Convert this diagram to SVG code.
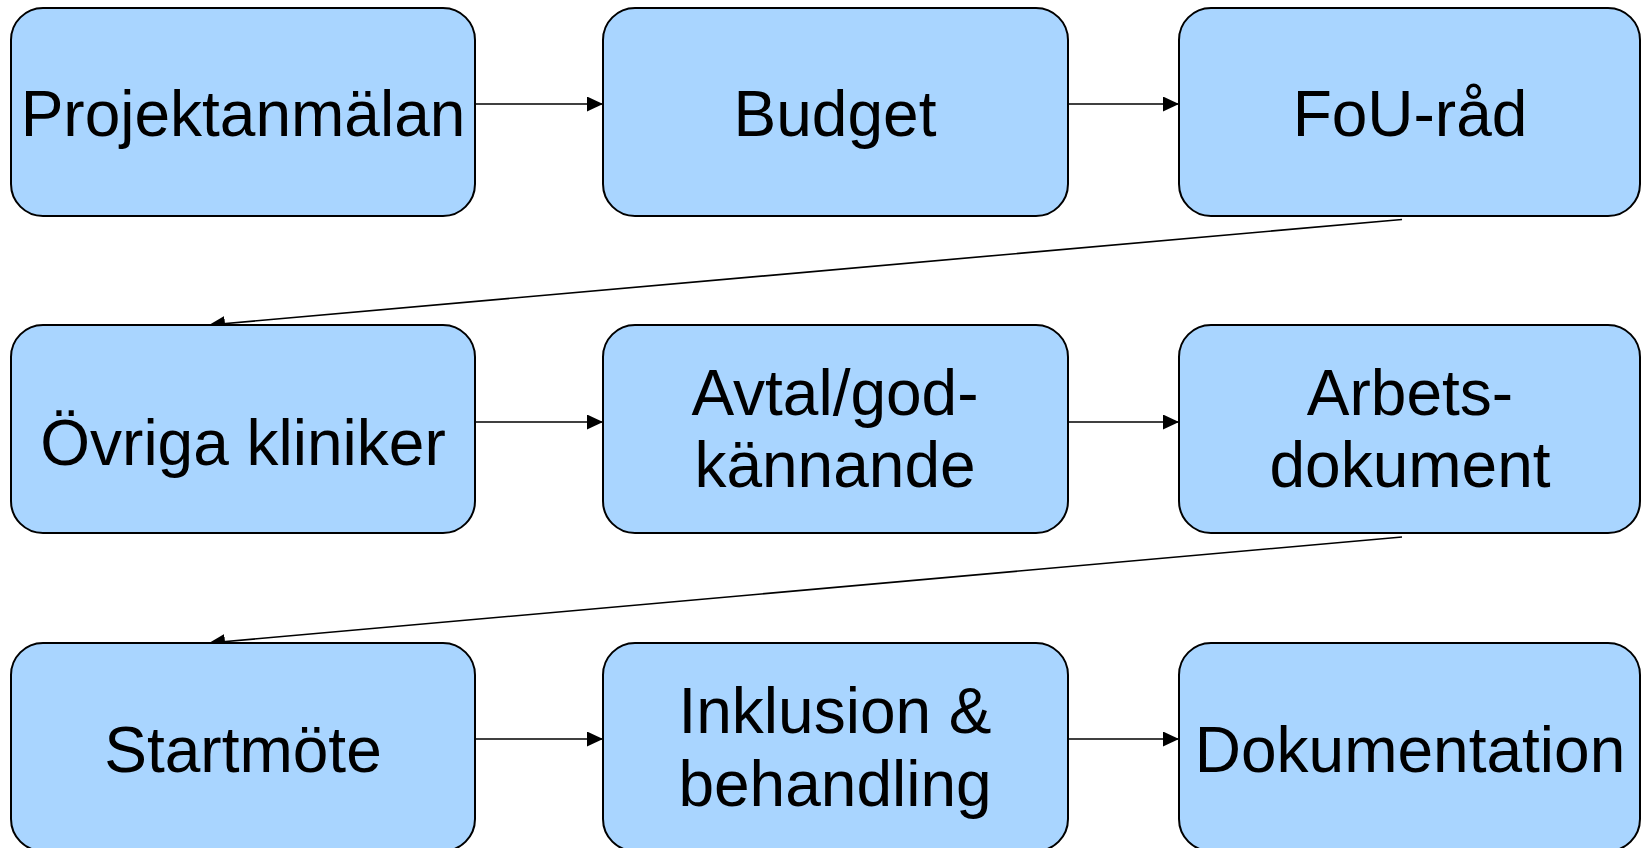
<svg xmlns="http://www.w3.org/2000/svg" width="1641" height="848" viewBox="0 0 1641 848">
<style>
.box{fill:#A9D5FF;stroke:#000;stroke-width:2}
.lbl{font-family:"Liberation Sans",Arial,sans-serif;font-size:64px;fill:#000;text-anchor:middle}
.con{stroke:#000;stroke-width:1.6;fill:none;marker-end:url(#ah)}
</style>
<defs>
<marker id="ah" markerUnits="userSpaceOnUse" markerWidth="17" markerHeight="15" refX="16" refY="7.5" orient="auto">
<path d="M0,0 L16,7.5 L0,15 z" fill="#000"/>
</marker>
</defs>
<rect width="1641" height="848" fill="#fff"/>
<g id="connectors">
<line class="con" x1="475" y1="104" x2="603" y2="104"/>
<line class="con" x1="1068" y1="104" x2="1179" y2="104"/>
<line class="con" x1="1402" y1="219.5" x2="209" y2="325"/>
<line class="con" x1="475" y1="422" x2="603" y2="422"/>
<line class="con" x1="1068" y1="422" x2="1179" y2="422"/>
<line class="con" x1="1402" y1="537" x2="209" y2="643"/>
<line class="con" x1="475" y1="739" x2="603" y2="739"/>
<line class="con" x1="1068" y1="739" x2="1179" y2="739"/>
</g>
<g id="n1"><rect class="box" x="11" y="8" width="464" height="208" rx="32"/><text class="lbl" x="243" y="136">Projektanmälan</text></g>
<g id="n2"><rect class="box" x="603" y="8" width="465" height="208" rx="32"/><text class="lbl" x="835" y="136">Budget</text></g>
<g id="n3"><rect class="box" x="1179" y="8" width="461" height="208" rx="32"/><text class="lbl" x="1410" y="136">FoU-råd</text></g>
<g id="n4"><rect class="box" x="11" y="325" width="464" height="208" rx="32"/><text class="lbl" x="243" y="465">Övriga kliniker</text></g>
<g id="n5"><rect class="box" x="603" y="325" width="465" height="208" rx="32"/><text class="lbl" x="835" y="415">Avtal/god-</text><text class="lbl" x="835" y="487">kännande</text></g>
<g id="n6"><rect class="box" x="1179" y="325" width="461" height="208" rx="32"/><text class="lbl" x="1410" y="415">Arbets-</text><text class="lbl" x="1410" y="487">dokument</text></g>
<g id="n7"><rect class="box" x="11" y="643" width="464" height="208" rx="32"/><text class="lbl" x="243" y="772">Startmöte</text></g>
<g id="n8"><rect class="box" x="603" y="643" width="465" height="208" rx="32"/><text class="lbl" x="835" y="733">Inklusion &amp;</text><text class="lbl" x="835" y="806">behandling</text></g>
<g id="n9"><rect class="box" x="1179" y="643" width="461" height="208" rx="32"/><text class="lbl" x="1410" y="772">Dokumentation</text></g>
</svg>
